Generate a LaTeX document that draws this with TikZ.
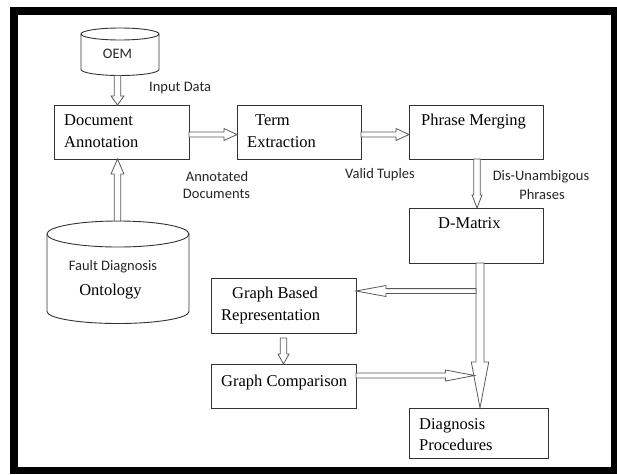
\documentclass[tikz,border=0pt]{standalone}
\usepackage{fontspec}
\setmainfont{Liberation Serif}
\newfontfamily\labfont{Carlito}
\usetikzlibrary{calc}
\tikzset{
  box/.style={draw=black!80, line width=0.9pt, inner sep=0pt, outer sep=0pt},
  ghost/.style={draw=none, inner sep=0pt, outer sep=0pt},
  cyl/.style={draw=black!80, line width=0.9pt},
  hollow/.style={draw=black!65, line width=0.8pt, fill=white, line join=miter},
  sertext/.style={inner sep=0pt, font=\fontsize{16.5}{20}\selectfont},
  santext/.style={inner sep=0pt, font=\labfont\fontsize{14.5}{18}\selectfont, text=black!85},
}
\newcommand\holarrow[5]{%
  \coordinate (hc) at ($(#2)!#5pt!(#1)$);
  \draw[hollow] ($(#1)!#3pt!90:(#2)$) -- ($(hc)!#3pt!90:(#2)$) -- ($(hc)!#4pt!90:(#2)$)
    -- (#2) -- ($(hc)!#4pt!-90:(#2)$) -- ($(hc)!#3pt!-90:(#2)$) -- ($(#1)!#3pt!-90:(#2)$) -- cycle;}
\begin{document}
\begin{tikzpicture}[x=1pt,y=-1pt]
\useasboundingbox (0,0) rectangle (617,474);
\fill[white] (0,0) rectangle (617,474);
\draw[line width=7.5pt, line join=miter] (14,11) rectangle (614.5,470.5);

% boxes
\node[box, minimum width=135pt, minimum height=54pt] (da) at (121.5,132) {};
\node[box, minimum width=124pt, minimum height=54pt] (te) at (299,132) {};
\node[box, minimum width=134pt, minimum height=54pt] (pm) at (476,132) {};
\node[box, minimum width=134pt, minimum height=55pt] (dm) at (476,235.5) {};
\node[box, minimum width=145pt, minimum height=55pt] (gbr) at (283.5,305.5) {};
\node[box, minimum width=145pt, minimum height=44pt] (gc) at (283.5,386) {};
\node[box, minimum width=139pt, minimum height=50pt] (dp) at (478.5,433) {};

% cylinders
\node[ghost, minimum width=78pt, minimum height=47.5pt] (oem) at (120,51.75) {};
\draw[cyl] ($(oem.north)+(0,6)$) ellipse [x radius=39pt, y radius=6pt];
\draw[cyl] ($(oem.north west)+(0,6)$) -- ($(oem.south west)+(0,-6)$)
  arc[start angle=180, end angle=360, x radius=39pt, y radius=6pt] -- ($(oem.north east)+(0,6)$);
\node[ghost, minimum width=142pt, minimum height=102.5pt] (ont) at (118,272.25) {};
\draw[cyl] ($(ont.north)+(0,13)$) ellipse [x radius=71pt, y radius=13pt];
\draw[cyl] ($(ont.north west)+(0,13)$) -- ($(ont.south west)+(0,-12)$)
  arc[start angle=180, end angle=360, x radius=71pt, y radius=12pt] -- ($(ont.north east)+(0,13)$);

% arrows
\coordinate (s1) at ($(oem.south)+(-2.5,0)$); \coordinate (e1) at ($(da.north)+(-4,0)$);
\holarrow{s1}{e1}{3.2}{6.5}{9}
\coordinate (s2) at ($(ont.north)+(-0.5,0)$); \coordinate (e2) at ($(da.south)+(-4,0)$);
\holarrow{s2}{e2}{3.2}{6.5}{15}
\coordinate (s3) at ($(da.east)+(0,2.5)$); \coordinate (e3) at ($(te.west)+(0,2.5)$);
\holarrow{s3}{e3}{2.5}{6}{13}
\coordinate (s4) at ($(te.east)+(0,2.5)$); \coordinate (e4) at ($(pm.west)+(0,2.5)$);
\holarrow{s4}{e4}{2.5}{6}{13}
\coordinate (s5) at ($(pm.south)+(1,0)$); \coordinate (e5) at ($(dm.north)+(1,0)$);
\holarrow{s5}{e5}{3.3}{5}{13}
\coordinate (s6) at ($(dm.south)+(4,0)$); \coordinate (e6) at ($(dp.north)+(1.5,0)$);
\holarrow{s6}{e6}{4}{8.7}{46}
\coordinate (s7) at ($(dm.south)+(0,28)$); \coordinate (e7) at ($(gbr.east)+(0,-14.5)$);
\holarrow{s7}{e7}{2.4}{5.5}{30}
\coordinate (s8) at ($(gbr.south)+(0,5)$); \coordinate (e8) at (gc.north);
\holarrow{s8}{e8}{3.2}{5.5}{10}
\coordinate (gcend) at (gc.east -| dm.south);
\coordinate (s9) at ($(gc.east)+(0,-10.5)$); \coordinate (e9) at ($(gcend)+(-1.5,-10.5)$);
\holarrow{s9}{e9}{2.5}{5.5}{29}

% box texts
\node[sertext, anchor=base west] (t1) at (64,125.3) {Document};
\node[sertext, anchor=base west] (t2) at (64,147) {Annotation};
\node[sertext, anchor=base west] (t3) at (255,125.5) {Term};
\node[sertext, anchor=base west] (t4) at (247,147) {Extraction};
\node[sertext, anchor=base west] (t5) at (421,125.3) {Phrase Merging};
\node[sertext, anchor=base west] (t6) at (438,228) {D-Matrix};
\node[sertext, anchor=base west] (t7) at (232,298.5) {Graph Based};
\node[sertext, anchor=base west] (t8) at (221,320) {Representation};
\node[sertext, anchor=base west] (t9) at (221,386) {Graph Comparison};
\node[sertext, anchor=base west] (t10) at (419,429.5) {Diagnosis};
\node[sertext, anchor=base west] (t11) at (419,450) {Procedures};
\node[sertext, anchor=base] (t12) at (110.5,295) {Ontology};

% labels
\node[santext, anchor=base] (l1) at (117.5,58.7) {OEM};
\node[santext, anchor=base west] (l2) at (149,91) {Input Data};
\node[santext, anchor=base] (l3) at (217,181) {Annotated};
\node[santext, anchor=base] (l4) at (216.5,198.7) {Documents};
\node[santext, anchor=base] (l5) at (380,178) {Valid Tuples};
\node[santext, anchor=base] (l6) at (541,180.7) {Dis-Unambigous};
\node[santext, anchor=base] (l7) at (542,199) {Phrases};
\node[santext, anchor=base] (l8) at (113,270) {Fault Diagnosis};
\end{tikzpicture}
\end{document}
